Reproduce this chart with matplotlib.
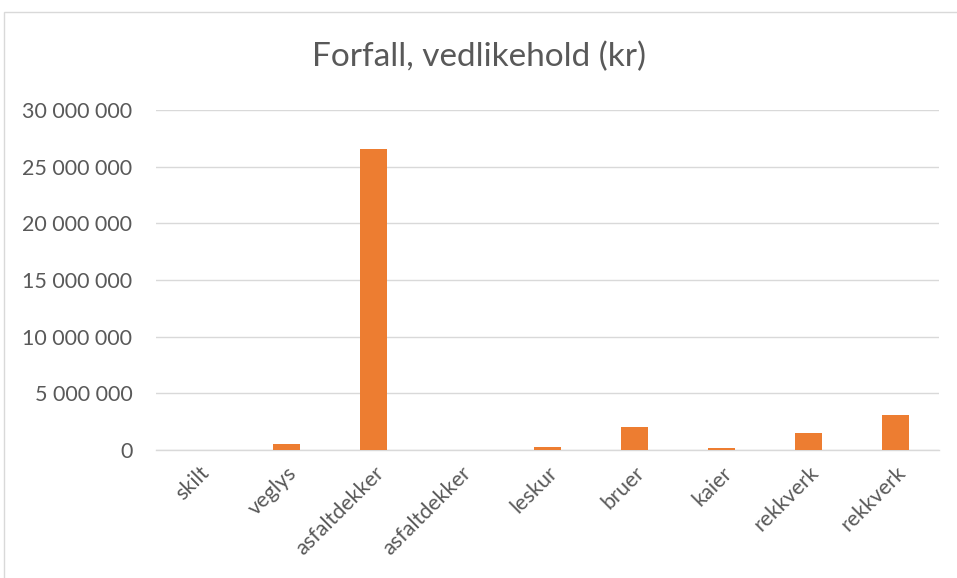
import matplotlib
matplotlib.use("Agg")
import matplotlib.pyplot as plt
from matplotlib.patches import Rectangle
from matplotlib.ticker import FuncFormatter, MultipleLocator

categories = ["skilt", "veglys", "asfaltdekker", "asfaltdekker", "leskur", "bruer", "kaier", "rekkverk", "rekkverk"]
values = [0, 550000, 26600000, 0, 300000, 2050000, 150000, 1530000, 3100000]
title = "Forfall, vedlikehold (kr)"

plt.rcParams['font.family'] = ['Lato', 'DejaVu Sans']
fig = plt.figure(figsize=(9.57, 5.78), dpi=100)
fig.patches.append(Rectangle((4/957, -0.1), 1.0, 1.1 - 12/578, transform=fig.transFigure,
                             fill=False, edgecolor='#d9d9d9', linewidth=1.0))
ax = fig.add_axes([156/957, 1-450/578, (939-156)/957, 340/578])
x = range(len(categories))
ax.bar(x, values, width=0.31, color='#ED7D31', zorder=3)
ax.set_xlim(-0.5, len(categories)-0.5)
ax.set_ylim(0, 30000000)
ax.yaxis.set_major_locator(MultipleLocator(5000000))
ax.yaxis.set_major_formatter(FuncFormatter(lambda v, p: f"{int(v):,}".replace(",", " ")))
ax.grid(axis='y', color='#d9d9d9', linewidth=1.0, zorder=0)
for s in ['top', 'right', 'left']:
    ax.spines[s].set_visible(False)
ax.spines['bottom'].set_color('#d9d9d9')
ax.spines['bottom'].set_linewidth(1.0)
ax.tick_params(axis='both', length=0, labelsize=15.5, labelcolor='#595959')
ax.tick_params(axis='y', pad=17)
ax.set_xticks(list(x))
ax.set_xticklabels(categories, rotation=45, ha='right', rotation_mode='anchor')
ax.tick_params(axis='x', pad=9)
fig.text(0.5, 1-57/578, title, ha='center', va='center', fontsize=24, color='#595959')
fig.savefig("out.png", dpi=100)
